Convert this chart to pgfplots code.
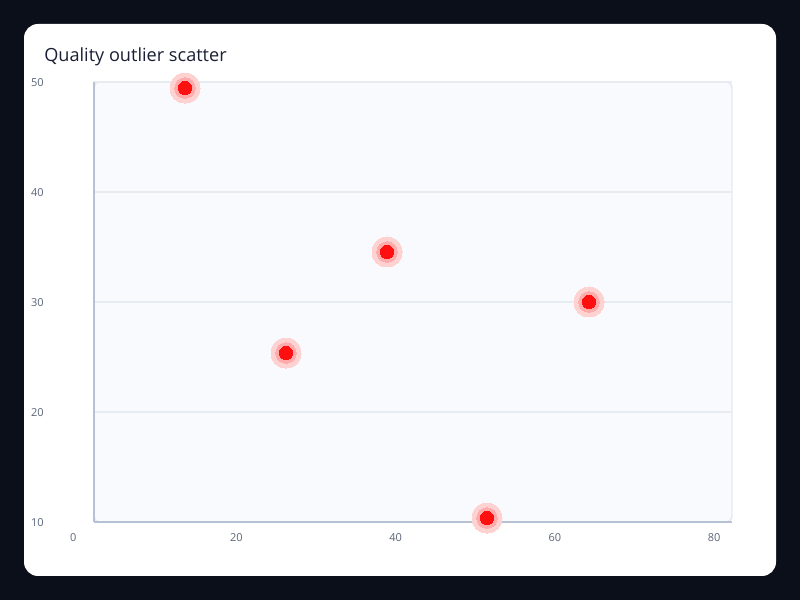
\documentclass[border=0pt]{standalone}
\usepackage{fontspec}
\setmainfont{Open Sans}
\usepackage{pgfplots}
\pgfplotsset{compat=1.18}
\definecolor{pagebg}{HTML}{0B0F1A}
\definecolor{plotbg}{HTML}{F8FAFE}
\definecolor{borderc}{HTML}{E4E9F1}
\definecolor{axisc}{HTML}{B6C2D4}
\definecolor{gridc}{HTML}{E7ECF3}
\definecolor{tickc}{HTML}{5C6678}
\definecolor{titlec}{HTML}{1A1F33}
\definecolor{haloA}{HTML}{FFD2D2}
\definecolor{haloB}{HTML}{FFABAB}
\definecolor{dotc}{HTML}{FF1010}
\pgfplotstableread{
x y
13.56 49.45
26.24 25.36
38.92 34.55
51.47 10.36
64.28 30.0
}\outliers
\begin{document}
\begin{tikzpicture}
\fill[pagebg] (0pt,0pt) rectangle (600pt,450pt);
\fill[white, rounded corners=10.5pt] (18pt,18pt) rectangle (582pt,432pt);
\node[anchor=base west, inner sep=0pt, font=\fontsize{13.6}{16}\selectfont, text=titlec] at (33pt,403.7pt) {Quality outlier scatter};
\filldraw[fill=plotbg, draw=borderc, line width=1.1pt, rounded corners=4.5pt] (70.5pt,58.5pt) rectangle (549pt,388.5pt);
\begin{axis}[scale only axis, width=478.5pt, height=330pt, at={(70.5pt,58.5pt)}, anchor=south west,
  xmin=2.13, xmax=82.23, ymin=10, ymax=50,
  axis x line=bottom, axis y line=left,
  axis line style={draw=axisc, line width=1.5pt, -},
  xtick={20,40,60,80}, ytick={10,20,30,40,50}, major tick length=0pt,
  ymajorgrids, grid style={draw=gridc, line width=1.1pt},
  yticklabel style={font=\fontsize{8.25}{10}\selectfont, text=tickc, anchor=east, inner sep=0pt, xshift=-37.5pt, yshift=-0.6pt},
  xticklabel style={font=\fontsize{8.25}{10}\selectfont, text=tickc, anchor=center, inner sep=0pt, yshift=-12pt},
  clip=false,
  /pgf/number format/assume math mode=true]
\addplot[only marks, color=haloA, mark=*, mark size=11.25pt, mark options={draw=haloA, fill=haloA, line width=0pt}] table {\outliers};
\addplot[only marks, color=haloB, mark=*, mark size=7.7pt, mark options={draw=haloB, fill=haloB, line width=0pt}] table {\outliers};
\addplot[only marks, color=dotc, mark=*, mark size=5pt, mark options={draw=dotc, fill=dotc, line width=0pt}] table {\outliers};
\node[font=\fontsize{8.25}{10}\selectfont, text=tickc, anchor=center, inner sep=0pt, yshift=-12pt, xshift=-2.8pt] at (axis cs:0,10) {0};
\end{axis}
\end{tikzpicture}
\end{document}
